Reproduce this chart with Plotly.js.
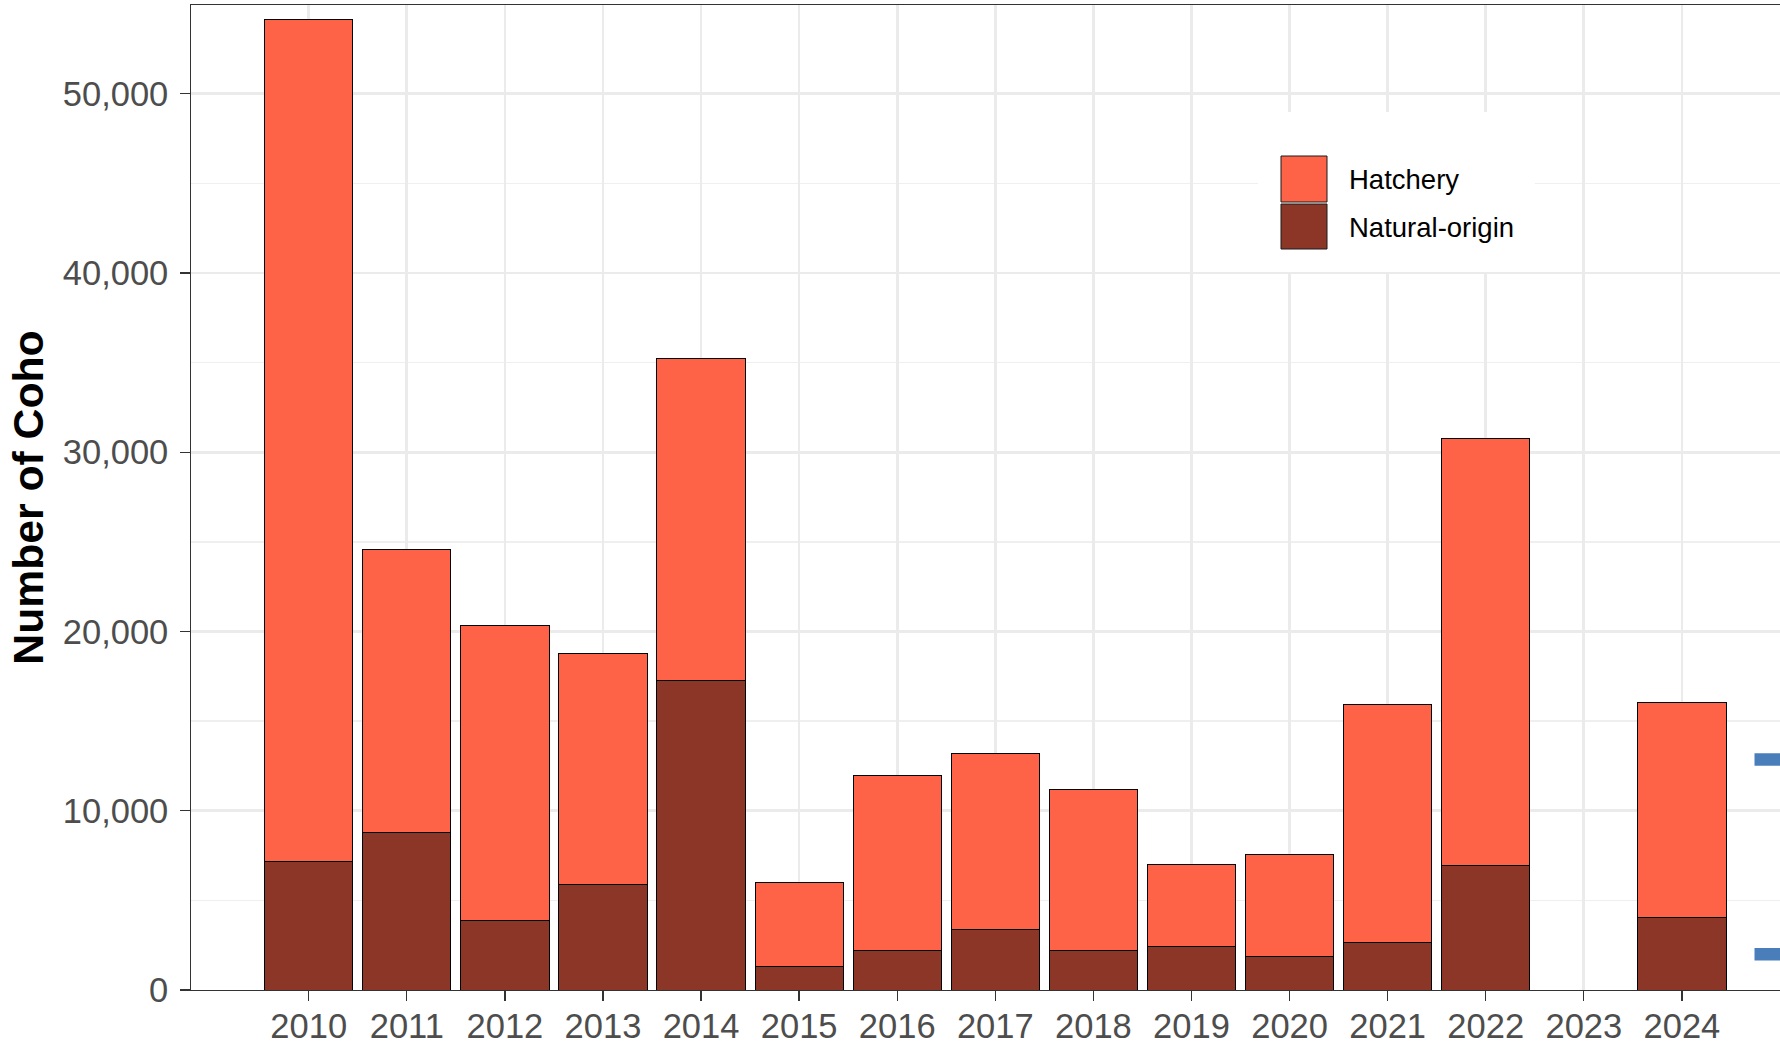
<!DOCTYPE html>
<html>
<head>
<meta charset="utf-8">
<script src="https://cdn.plot.ly/plotly-3.0.1.min.js"></script>
<style>
  html, body { margin: 0; padding: 0; background: #ffffff; }
  #chart { width: 1780px; height: 1043px; }
</style>
</head>
<body>
<div id="chart"></div>
<script>
// ---- data ----
const years = [2010, 2011, 2012, 2013, 2014, 2015, 2016, 2017, 2018, 2019, 2020, 2021, 2022, 2023, 2024];
const yearLabels = ["2010","2011","2012","2013","2014","2015","2016","2017","2018","2019","2020","2021","2022","2023","2024"];
const naturalOrigin = [7170, 8770, 3850, 5890, 17270, 1300, 2190, 3400, 2190, 2450, 1870, 2640, 6920, null, 4050];
const hatchery      = [46950, 15800, 16470, 12900, 17960, 4700, 9780, 9820, 9000, 4540, 5690, 13270, 23850, null, 11990];
const seriesNames = ["Hatchery", "Natural-origin"];
const seriesColors = ["#FF6347", "#8B3626"];
// partially visible blue markers at the right edge (next year, cut off)
const markerYear = [2024.74, 2025.26];
const upperMarker = [12860, 12860];
const lowerMarker = [2000, 2000];
const yTickVals = [0, 10000, 20000, 30000, 40000, 50000];
const yTickText = ["0", "10,000", "20,000", "30,000", "40,000", "50,000"];

const FONT = "Liberation Sans, Arial, Helvetica, sans-serif";

// plot-area geometry in px (used for the hand-drawn legend)
const W = 1780, H = 1043;
const M = {l: 191, r: 0, t: 5, b: 53};
const PW = W - M.l - M.r, PH = H - M.t - M.b;
const px = x => (x - M.l) / PW;
const py = y => (H - M.b - y) / PH;

const traces = [
  {
    type: "bar", name: seriesNames[1], x: years, y: naturalOrigin, width: 0.9,
    marker: {color: seriesColors[1], line: {color: "#000000", width: 1}},
    showlegend: false
  },
  {
    type: "bar", name: seriesNames[0], x: years, y: hatchery, width: 0.9,
    marker: {color: seriesColors[0], line: {color: "#000000", width: 1}},
    showlegend: false
  },
  {
    type: "scatter", mode: "lines", x: markerYear, y: upperMarker,
    line: {color: "#4A7EBB", width: 12.5}, showlegend: false, hoverinfo: "skip"
  },
  {
    type: "scatter", mode: "lines", x: markerYear, y: lowerMarker,
    line: {color: "#4A7EBB", width: 12.5}, showlegend: false, hoverinfo: "skip"
  }
];

// hand-drawn legend (large key boxes like the reference)
const shapes = [
  {type: "rect", xref: "paper", yref: "paper", layer: "above",
   x0: px(1258), x1: px(1535), y0: py(272), y1: py(112),
   fillcolor: "#ffffff", line: {width: 0}},
  {type: "rect", xref: "paper", yref: "paper", layer: "above",
   x0: px(1281), x1: px(1327), y0: py(202), y1: py(156),
   fillcolor: seriesColors[0], line: {color: "#1a1a1a", width: 1}},
  {type: "rect", xref: "paper", yref: "paper", layer: "above",
   x0: px(1281), x1: px(1327), y0: py(249), y1: py(204),
   fillcolor: seriesColors[1], line: {color: "#1a1a1a", width: 1}}
];
const annotations = [
  {xref: "paper", yref: "paper", x: px(1347), y: py(180), xanchor: "left", yanchor: "middle",
   text: seriesNames[0], showarrow: false, font: {family: FONT, size: 27.5, color: "#000000"}},
  {xref: "paper", yref: "paper", x: px(1347), y: py(227), xanchor: "left", yanchor: "middle",
   text: seriesNames[1], showarrow: false, font: {family: FONT, size: 27.5, color: "#000000"}}
];

const layout = {
  width: W, height: H,
  margin: {l: M.l, r: M.r, t: M.t, b: M.b, pad: 0},
  paper_bgcolor: "#ffffff", plot_bgcolor: "#ffffff",
  font: {family: FONT},
  barmode: "stack",
  showlegend: false,
  xaxis: {
    range: [2008.8, 2025.0],
    tickmode: "array", tickvals: years, ticktext: yearLabels,
    tickfont: {family: FONT, size: 34.5, color: "#4D4D4D"},
    ticks: "outside", ticklen: 9.5, tickwidth: 1.3, tickcolor: "#333333",
    ticklabelstandoff: -4,
    showgrid: true, gridcolor: "#EBEBEB", gridwidth: 2.7,
    showline: true, linecolor: "#333333", linewidth: 1.3, mirror: true,
    zeroline: false, fixedrange: true
  },
  yaxis: {
    range: [0, 54952],
    tickmode: "array", tickvals: yTickVals, ticktext: yTickText,
    tickfont: {family: FONT, size: 34.5, color: "#4D4D4D"},
    ticks: "outside", ticklen: 9.5, tickwidth: 1.3, tickcolor: "#333333",
    ticklabelstandoff: 5,
    showgrid: true, gridcolor: "#EBEBEB", gridwidth: 2.7,
    minor: {dtick: 5000, tick0: 0, showgrid: true, gridcolor: "#EFEFEF", gridwidth: 1.3, ticks: ""},
    showline: true, linecolor: "#333333", linewidth: 1.3, mirror: false,
    zeroline: false, fixedrange: true,
    title: {text: "Number of Coho", standoff: 5,
            font: {family: FONT, size: 42.7, color: "#000000", weight: 700}}
  },
  shapes: shapes,
  annotations: annotations
};

Plotly.newPlot("chart", traces, layout, {displayModeBar: false, staticPlot: true});
</script>
</body>
</html>
